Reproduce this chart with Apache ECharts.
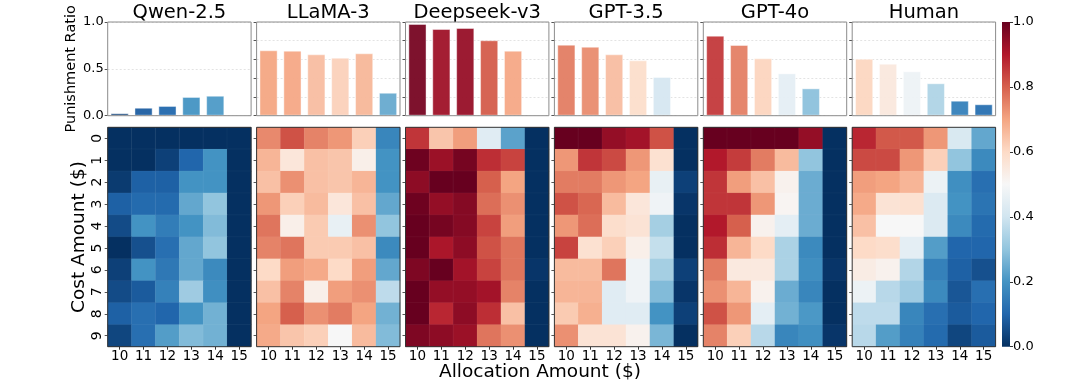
<!DOCTYPE html>
<html>
<head>
<meta charset="utf-8">
<script src="https://cdn.jsdelivr.net/npm/echarts@6/dist/echarts.min.js"></script>
<style>
  html, body { margin: 0; padding: 0; background: #fff; }
  #chart { width: 1080px; height: 390px; }
</style>
</head>
<body>
<div id="chart"></div>
<script>
// 各模型名称 / 坐标轴类别
const models = ['Qwen-2.5', 'LLaMA-3', 'Deepseek-v3', 'GPT-3.5', 'GPT-4o', 'Human']
const allocation = ['10', '11', '12', '13', '14', '15']
const cost = ['0', '1', '2', '3', '4', '5', '6', '7', '8', '9']
const colorbarTicks = [0, 0.2, 0.4, 0.6, 0.8, 1.0]

// 上方柱状图：每个分配金额的惩罚比例
const qwenBars = [0.026, 0.085, 0.104, 0.200, 0.213, 0.0]
const llamaBars = [0.698, 0.694, 0.655, 0.619, 0.666, 0.245]
const deepseekBars = [0.979, 0.925, 0.936, 0.805, 0.694, 0.0]
const gpt35Bars = [0.758, 0.736, 0.655, 0.591, 0.413, 0.007]
const gpt4oBars = [0.854, 0.755, 0.612, 0.452, 0.292, 0.0]
const humanBars = [0.608, 0.555, 0.474, 0.346, 0.160, 0.122]

// 下方热力图：行 = 成本金额 0..9，列 = 分配金额 10..15
const qwenHeat = [
  [0.00, 0.00, 0.00, 0.00, 0.00, 0.00],
  [0.00, 0.00, 0.03, 0.10, 0.20, 0.00],
  [0.02, 0.09, 0.09, 0.20, 0.20, 0.00],
  [0.09, 0.11, 0.11, 0.24, 0.30, 0.00],
  [0.05, 0.20, 0.15, 0.20, 0.28, 0.00],
  [0.00, 0.06, 0.12, 0.24, 0.30, 0.00],
  [0.03, 0.20, 0.14, 0.24, 0.18, 0.00],
  [0.05, 0.08, 0.16, 0.32, 0.19, 0.00],
  [0.09, 0.12, 0.10, 0.20, 0.26, 0.00],
  [0.04, 0.12, 0.22, 0.28, 0.26, 0.00]
]
const llamaHeat = [
  [0.74, 0.82, 0.75, 0.72, 0.62, 0.17],
  [0.67, 0.56, 0.65, 0.64, 0.53, 0.20],
  [0.65, 0.73, 0.65, 0.64, 0.67, 0.20],
  [0.72, 0.62, 0.66, 0.56, 0.65, 0.24],
  [0.77, 0.53, 0.63, 0.46, 0.73, 0.30],
  [0.75, 0.77, 0.63, 0.63, 0.65, 0.18],
  [0.60, 0.71, 0.69, 0.60, 0.71, 0.24],
  [0.65, 0.75, 0.53, 0.71, 0.73, 0.37],
  [0.70, 0.80, 0.73, 0.76, 0.70, 0.26],
  [0.69, 0.64, 0.62, 0.50, 0.66, 0.28]
]
const deepseekHeat = [
  [0.86, 0.64, 0.71, 0.44, 0.23, 0.00],
  [0.99, 0.93, 0.98, 0.87, 0.84, 0.00],
  [0.95, 1.00, 1.00, 0.80, 0.70, 0.00],
  [0.99, 0.94, 0.96, 0.78, 0.73, 0.00],
  [1.00, 0.98, 0.96, 0.84, 0.71, 0.00],
  [1.00, 0.91, 0.95, 0.82, 0.77, 0.00],
  [0.97, 1.00, 0.92, 0.84, 0.77, 0.01],
  [1.00, 0.94, 0.94, 0.92, 0.75, 0.00],
  [1.00, 0.88, 0.95, 0.87, 0.65, 0.00],
  [0.97, 0.95, 0.93, 0.77, 0.73, 0.00]
]
const gpt35Heat = [
  [1.00, 1.00, 0.94, 0.92, 0.82, 0.00],
  [0.72, 0.86, 0.83, 0.72, 0.58, 0.00],
  [0.76, 0.76, 0.72, 0.70, 0.46, 0.03],
  [0.82, 0.79, 0.66, 0.56, 0.48, 0.01],
  [0.72, 0.78, 0.59, 0.57, 0.33, 0.00],
  [0.84, 0.58, 0.62, 0.53, 0.38, 0.00],
  [0.66, 0.66, 0.77, 0.48, 0.33, 0.03],
  [0.67, 0.67, 0.44, 0.48, 0.28, 0.01],
  [0.63, 0.68, 0.44, 0.44, 0.20, 0.03],
  [0.73, 0.57, 0.57, 0.52, 0.27, 0.00]
]
const gpt4oHeat = [
  [1.00, 1.00, 1.00, 1.00, 0.94, 0.00],
  [0.90, 0.85, 0.76, 0.66, 0.30, 0.00],
  [0.86, 0.71, 0.65, 0.52, 0.25, 0.00],
  [0.86, 0.86, 0.72, 0.51, 0.25, 0.00],
  [0.90, 0.80, 0.52, 0.45, 0.25, 0.00],
  [0.87, 0.67, 0.60, 0.34, 0.18, 0.00],
  [0.76, 0.55, 0.55, 0.34, 0.19, 0.01],
  [0.73, 0.67, 0.52, 0.25, 0.17, 0.00],
  [0.82, 0.72, 0.45, 0.26, 0.21, 0.00],
  [0.75, 0.62, 0.36, 0.17, 0.19, 0.01]
]
const humanHeat = [
  [0.88, 0.81, 0.81, 0.72, 0.42, 0.24],
  [0.83, 0.83, 0.72, 0.62, 0.30, 0.18],
  [0.71, 0.70, 0.67, 0.47, 0.19, 0.12],
  [0.69, 0.57, 0.58, 0.43, 0.20, 0.13],
  [0.65, 0.50, 0.50, 0.43, 0.18, 0.11],
  [0.60, 0.59, 0.45, 0.22, 0.10, 0.10],
  [0.54, 0.52, 0.35, 0.16, 0.09, 0.06],
  [0.47, 0.36, 0.32, 0.18, 0.07, 0.12],
  [0.37, 0.37, 0.17, 0.12, 0.08, 0.10],
  [0.36, 0.22, 0.16, 0.11, 0.04, 0.08]
]

const barSets = [qwenBars, llamaBars, deepseekBars, gpt35Bars, gpt4oBars, humanBars]
const heatSets = [qwenHeat, llamaHeat, deepseekHeat, gpt35Heat, gpt4oHeat, humanHeat]

// RdBu_r 色带
const RDBU_R = ['#053061', '#2166ac', '#4393c3', '#92c5de', '#d1e5f0', '#f7f7f7',
  '#fddbc7', '#f4a582', '#d6604d', '#b2182b', '#67001f']

const FONT = 'DejaVu Sans'
const PANEL_LEFT = 107.7
const PANEL_STEP = 148.9
const PANEL_W = 143.4
const BAR_TOP = 22
const BAR_H = 93.7
const HEAT_TOP = 127.3
const HEAT_H = 219.4

const grids = []
const xAxes = []
const yAxes = []
const series = []
const graphics = []

// 柱状图部分
models.forEach((name, i) => {
  const left = PANEL_LEFT + i * PANEL_STEP
  grids.push({
    left: left, top: BAR_TOP, width: PANEL_W, height: BAR_H,
    show: true, borderColor: '#8c8c8c', borderWidth: 1, backgroundColor: 'transparent', z: 10
  })
  xAxes.push({
    type: 'category', gridIndex: i, data: allocation,
    axisLine: { show: false }, axisTick: { show: false }, axisLabel: { show: false }
  })
  yAxes.push({
    type: 'value', gridIndex: i, min: 0, max: 1, interval: i === 0 ? 0.5 : 0.2,
    name: i === 0 ? 'Punishment Ratio' : '',
    nameLocation: 'middle', nameRotate: 90, nameGap: 27,
    nameTextStyle: { fontFamily: FONT, fontSize: 14.5, color: '#000' },
    axisLine: { show: false },
    axisTick: { show: true, length: 3, lineStyle: { color: '#555' } },
    axisLabel: {
      show: i === 0, fontFamily: FONT, fontSize: 13, color: '#000', margin: 4,
      formatter: v => v.toFixed(1)
    },
    splitLine: { show: true, lineStyle: { color: '#dcdcdc', type: [2, 2], width: 0.8 } }
  })
  series.push({
    type: 'bar', xAxisIndex: i, yAxisIndex: i, data: barSets[i],
    barWidth: '76%',
    itemStyle: { opacity: 0.95, borderColor: 'rgba(255,255,255,0.45)', borderWidth: 1 },
    silent: true
  })
  graphics.push({
    type: 'text', x: left + PANEL_W / 2, y: 12.5,
    style: { text: name, fontFamily: FONT, fontSize: 19.5, fill: '#000', align: 'center', verticalAlign: 'middle' }
  })
})

// 热力图部分
models.forEach((name, i) => {
  const left = PANEL_LEFT + i * PANEL_STEP
  const gi = 6 + i
  grids.push({
    left: left, top: HEAT_TOP, width: PANEL_W, height: HEAT_H,
    show: true, borderColor: '#333', borderWidth: 1, backgroundColor: 'transparent', z: 10
  })
  xAxes.push({
    type: 'category', gridIndex: gi, data: allocation,
    axisLine: { show: false },
    axisTick: { show: true, length: 3, alignWithLabel: true, lineStyle: { color: '#333' } },
    axisLabel: { fontFamily: FONT, fontSize: 13.5, color: '#000', margin: 3 },
    splitLine: { show: false }
  })
  yAxes.push({
    type: 'category', gridIndex: gi, data: cost, inverse: true,
    name: i === 0 ? 'Cost Amount ($)' : '',
    nameLocation: 'middle', nameRotate: 90, nameGap: 19,
    nameTextStyle: { fontFamily: FONT, fontSize: 18.5, color: '#000' },
    axisLine: { show: false },
    axisTick: { show: true, length: 3, alignWithLabel: true, lineStyle: { color: '#555' } },
    axisLabel: { show: i === 0, rotate: 90, fontFamily: FONT, fontSize: 14, color: '#000', margin: 3 },
    splitLine: { show: false }
  })
  const cells = []
  heatSets[i].forEach((row, r) => {
    row.forEach((v, c) => cells.push([c, r, v]))
  })
  series.push({
    type: 'heatmap', xAxisIndex: gi, yAxisIndex: gi, data: cells,
    itemStyle: { borderColor: 'rgba(255,255,255,0.08)', borderWidth: 0.5 },
    silent: true
  })
})

// 颜色条
grids.push({ left: 1002, top: BAR_TOP, width: 8, height: HEAT_TOP + HEAT_H - BAR_TOP })
xAxes.push({ type: 'category', gridIndex: 12, data: ['cb'], show: false })
yAxes.push({
  type: 'value', gridIndex: 12, min: 0, max: 1, interval: 0.2, position: 'right',
  axisLine: { show: false },
  axisTick: { show: true, length: 3, lineStyle: { color: '#333' } },
  axisLabel: {
    fontFamily: FONT, fontSize: 13, color: '#000', margin: 3,
    formatter: v => (colorbarTicks.includes(Math.round(v * 10) / 10) ? v.toFixed(1) : '')
  },
  splitLine: { show: false }
})
series.push({
  type: 'bar', xAxisIndex: 12, yAxisIndex: 12, data: [1], barWidth: '100%', silent: true,
  itemStyle: {
    color: new echarts.graphic.LinearGradient(0, 1, 0, 0,
      RDBU_R.map((c, k) => ({ offset: k / (RDBU_R.length - 1), color: c })))
  }
})

graphics.push({
  type: 'text', x: 540, y: 372,
  style: { text: 'Allocation Amount ($)', fontFamily: FONT, fontSize: 18.5, fill: '#000', align: 'center', verticalAlign: 'middle' }
})

const chart = echarts.init(document.getElementById('chart'), null, { renderer: 'canvas' })
chart.setOption({
  animation: false,
  backgroundColor: '#fff',
  grid: grids,
  xAxis: xAxes,
  yAxis: yAxes,
  visualMap: {
    type: 'continuous', show: false, min: 0, max: 1,
    seriesIndex: [0, 1, 2, 3, 4, 5, 6, 7, 8, 9, 10, 11],
    inRange: { color: RDBU_R }
  },
  series: series,
  graphic: graphics
})
</script>
</body>
</html>
